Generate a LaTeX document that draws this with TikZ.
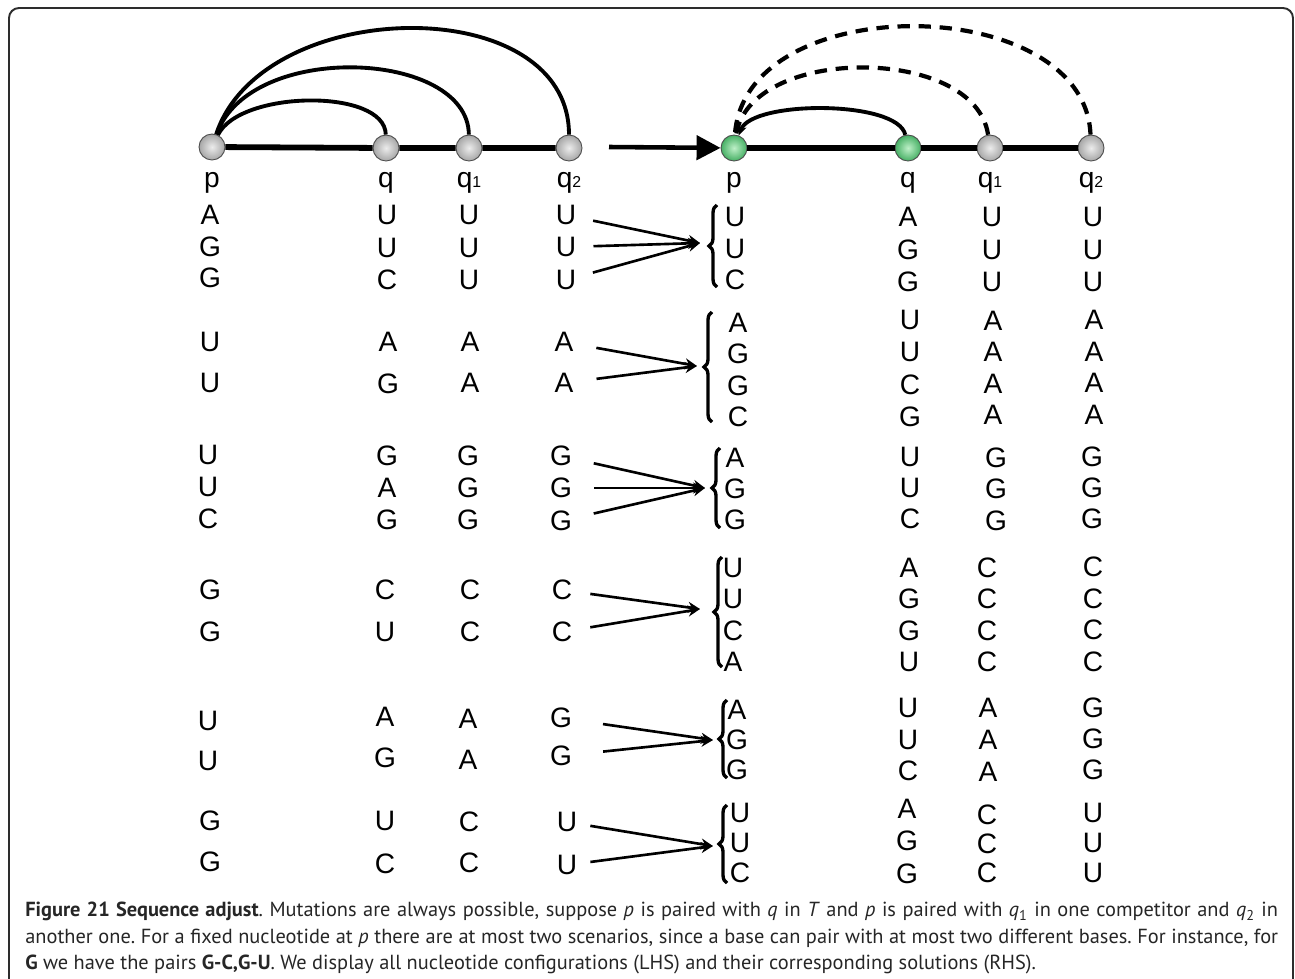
\documentclass[tikz,border=0pt]{standalone}
\usepackage{fontspec}
\setmainfont{Liberation Sans}
\newfontfamily\capfont{PT Sans}
\usetikzlibrary{arrows.meta,decorations.pathreplacing}

\definecolor{mintin}{RGB}{190,240,200}
\definecolor{mintout}{RGB}{70,175,100}
\definecolor{frameline}{RGB}{45,45,45}
\newcommand\idx[1]{{\fontsize{9}{9}\selectfont #1}}

\tikzset{
  nt/.style={font=\fontsize{16}{19}\selectfont, inner sep=0pt},
  col/.style={align=center, inner sep=0pt, font=\fontsize{16}{#1}\selectfont},
  bead/.style={circle, minimum size=0.52cm, inner sep=0pt, draw=gray!60!black, line width=0.5pt,
               shading=radial, inner color=gray!15, outer color=gray!70},
  greenbead/.style={bead, inner color=mintin, outer color=mintout},
  backbone/.style={line width=3.3pt},
  link/.style={line width=2.2pt},
  pend/.style={line width=2.4pt, dash pattern=on 7pt off 5pt},
  pairarrow/.style={line width=1.5pt, -{Stealth[length=0.24cm, width=0.22cm]}, shorten <=#1},
  pairarrow/.default=0.4cm,
  curly/.style={decorate, decoration={brace, amplitude=0.16cm}, line width=1.9pt},
}

\begin{document}
\begin{tikzpicture}[x=0.02cm, y=-0.02cm]
    \path[use as bounding box, fill=white] (0,0) rectangle (1295,978);
    % frame
    \draw[frameline, line width=1.1pt, rounded corners=0.2cm] (9,985) -- (9,8) -- (1293,8) -- (1293,985);

    % structure T with both competitors
    \node[bead] (p) at (212,147) {};
    \node[bead] (q) at (386,148) {};
    \node[bead] (q1) at (469,148) {};
    \node[bead] (q2) at (569,148) {};
    \draw[backbone] (p) -- (q) (q) -- (q1) (q1) -- (q2);
    \draw[link] (p) .. controls (240,90) and (385,88) .. (q);
    \draw[link] (p) .. controls (250,40) and (468,50) .. (q1);
    \draw[link] (p) .. controls (262,-5) and (569,-10) .. (q2);
    \node[nt, anchor=base] (pl) at (212,187) {p};
    \node[nt, anchor=base] (ql) at (386,187) {q};
    \node[nt, anchor=base] (q1l) at (469,187) {q\idx{1}};
    \node[nt, anchor=base] (q2l) at (569,187) {q\idx{2}};

    % adjusted structure
    \node[greenbead] (rp) at (734,148) {};
    \node[greenbead] (rq) at (908,148) {};
    \node[bead] (rq1) at (990,148) {};
    \node[bead] (rq2) at (1091,148) {};
    \draw[backbone] (rp) -- (rq) (rq) -- (rq1) (rq1) -- (rq2);
    \draw[link, -{Stealth[length=0.2cm, width=0.18cm]}] (rq) .. controls (898,100) and (752,100) .. (rp);
    \draw[pend] (rq1) .. controls (975,45) and (750,45) .. (rp);
    \draw[pend] (rq2) .. controls (1085,-8) and (745,-12) .. (rp);
    \node[nt, anchor=base] (rpl) at (734,187) {p};
    \node[nt, anchor=base] (rql) at (908,187) {q};
    \node[nt, anchor=base] (rq1l) at (990,187) {q\idx{1}};
    \node[nt, anchor=base] (rq2l) at (1091,187) {q\idx{2}};

    \coordinate (gap) at (609,147);
    \draw[line width=2.6pt, -{Triangle[length=0.48cm, width=0.48cm]}] (gap) -- (rp);

    % p = A, G, G
    \node[col=0.63cm] (g1p) at (210,246.5) {A\\G\\G};
    \node[col=0.65cm] (g1q) at (387,247.5) {U\\U\\C};
    \node[col=0.65cm] (g1qa) at (469,247.5) {U\\U\\U};
    \node[nt] (g1u1) at (566,215) {U};
    \node[nt] (g1u2) at (566,247) {U};
    \node[nt] (g1u3) at (566,280) {U};
    \coordinate (g1tip) at (700,243);
    \foreach \n in {g1u1,g1u2,g1u3} \draw[pairarrow=0.34cm] (\n) -- (g1tip);
    \draw[curly] (717,287) -- (717,205);
    \node[col=0.63cm] (g1sol) at (735,248.5) {U\\U\\C};
    \node[col=0.65cm] (g1rq) at (908,249.5) {A\\G\\G};
    \node[col=0.65cm] (g1rqa) at (992,249.5) {U\\U\\U};
    \node[col=0.65cm] (g1rqb) at (1093,249.5) {U\\U\\U};

    % p = U, U
    \node[col=0.82cm] (g2p) at (210,362.5) {U\\U};
    \node[col=0.84cm] (g2q) at (388,363) {A\\G};
    \node[col=0.82cm] (g2qa) at (470,362.5) {A\\A};
    \node[nt] (g2u1) at (564,342) {A};
    \node[nt] (g2u2) at (564,383) {A};
    \coordinate (g2tip) at (697,366);
    \foreach \n in {g2u1,g2u2} \draw[pairarrow=0.46cm] (\n) -- (g2tip);
    \draw[curly] (712,422) -- (712,312);
    \node[col=0.63cm] (g2sol) at (738,370) {A\\G\\G\\C};
    \node[col=0.65cm] (g2rq) at (910,368.5) {U\\U\\C\\G};
    \node[col=0.63cm] (g2rqa) at (993,368) {A\\A\\A\\A};
    \node[col=0.63cm] (g2rqb) at (1094,367.5) {A\\A\\A\\A};

    % p = U, U, C
    \node[col=0.64cm] (g3p) at (208,487) {U\\U\\C};
    \node[col=0.64cm] (g3q) at (387,488) {G\\A\\G};
    \node[col=0.64cm] (g3qa) at (468,488) {G\\G\\G};
    \node[nt] (g3u1) at (561,456) {G};
    \node[nt] (g3u2) at (561,488) {G};
    \node[nt] (g3u3) at (561,521) {G};
    \coordinate (g3tip) at (705,488);
    \foreach \n in {g3u1,g3u2,g3u3} \draw[pairarrow=0.44cm] (\n) -- (g3tip);
    \draw[curly] (720,528) -- (720,448);
    \node[col=0.62cm] (g3sol) at (735,489) {A\\G\\G};
    \node[col=0.62cm] (g3rq) at (910,488) {U\\U\\C};
    \node[col=0.63cm] (g3rqa) at (996,489) {G\\G\\G};
    \node[col=0.62cm] (g3rqb) at (1092,488) {G\\G\\G};

    % p = G, G
    \node[col=0.84cm] (g4p) at (210,611) {G\\G};
    \node[col=0.84cm] (g4q) at (385,611) {C\\U};
    \node[col=0.84cm] (g4qa) at (470,611) {C\\C};
    \node[nt] (g4u1) at (562,590) {C};
    \node[nt] (g4u2) at (562,632) {C};
    \coordinate (g4tip) at (700,609);
    \foreach \n in {g4u1,g4u2} \draw[pairarrow=0.36cm] (\n) -- (g4tip);
    \draw[curly] (722,667) -- (722,557);
    \node[col=0.63cm] (g4sol) at (733,615) {U\\U\\C\\A};
    \node[col=0.63cm] (g4rq) at (909,615) {A\\G\\G\\U};
    \node[col=0.63cm] (g4rqa) at (987,615) {C\\C\\C\\C};
    \node[col=0.63cm] (g4rqb) at (1093,614.5) {C\\C\\C\\C};

    % p = U, U
    \node[col=0.8cm] (g5p) at (208,741) {U\\U};
    \node[col=0.82cm] (g5q) at (385,737.5) {A\\G};
    \node[col=0.82cm] (g5qa) at (468,739.5) {A\\A};
    \node[nt] (g5u1) at (561,718) {G};
    \node[nt] (g5u2) at (561,756) {G};
    \coordinate (g5tip) at (713,740);
    \foreach \n in {g5u1,g5u2} \draw[pairarrow=0.62cm] (\n) -- (g5tip);
    \draw[curly] (727,778) -- (727,700);
    \node[col=0.6cm] (g5sol) at (737,740) {A\\G\\G};
    \node[col=0.63cm] (g5rq) at (908,739.5) {U\\U\\C};
    \node[col=0.64cm] (g5rqa) at (988,740) {A\\A\\A};
    \node[col=0.62cm] (g5rqb) at (1093,738.5) {G\\G\\G};

    % p = G, G
    \node[col=0.82cm] (g6p) at (210,841.5) {G\\G};
    \node[col=0.86cm] (g6q) at (385,842.5) {U\\C};
    \node[col=0.82cm] (g6qa) at (469,842.5) {C\\C};
    \node[nt] (g6u1) at (567,822) {U};
    \node[nt] (g6u2) at (567,865) {U};
    \coordinate (g6tip) at (713,846);
    \foreach \n in {g6u1,g6u2} \draw[pairarrow=0.26cm] (\n) -- (g6tip);
    \draw[curly] (727,883) -- (727,805);
    \node[col=0.6cm] (g6sol) at (740,843) {U\\U\\C};
    \node[col=0.65cm] (g6rq) at (907,841) {A\\G\\G};
    \node[col=0.58cm] (g6rqa) at (987,844) {C\\C\\C};
    \node[col=0.6cm] (g6rqb) at (1093,843) {U\\U\\U};

    % caption
    \node[anchor=north west, inner sep=0pt, text width=25.06cm, align=justify, text=black!85,
          font=\capfont\fontsize{11.6}{15.1}\selectfont\frenchspacing] (cap) at (25,902)
      {\textbf{Figure 21 Sequence adjust}. Mutations are always possible, suppose \textit{p} is paired with \textit{q} in \textit{T} and \textit{p} is paired with \textit{q}\textsubscript{1} in one competitor and \textit{q}\textsubscript{2} in\linebreak
       another one. For a fixed nucleotide at \textit{p} there are at most two scenarios, since a base can pair with at most two different bases. For instance, for\linebreak
       \textbf{G} we have the pairs \textbf{G-C,G-U}. We display all nucleotide configurations (LHS) and their corresponding solutions (RHS).};
\end{tikzpicture}
\end{document}
